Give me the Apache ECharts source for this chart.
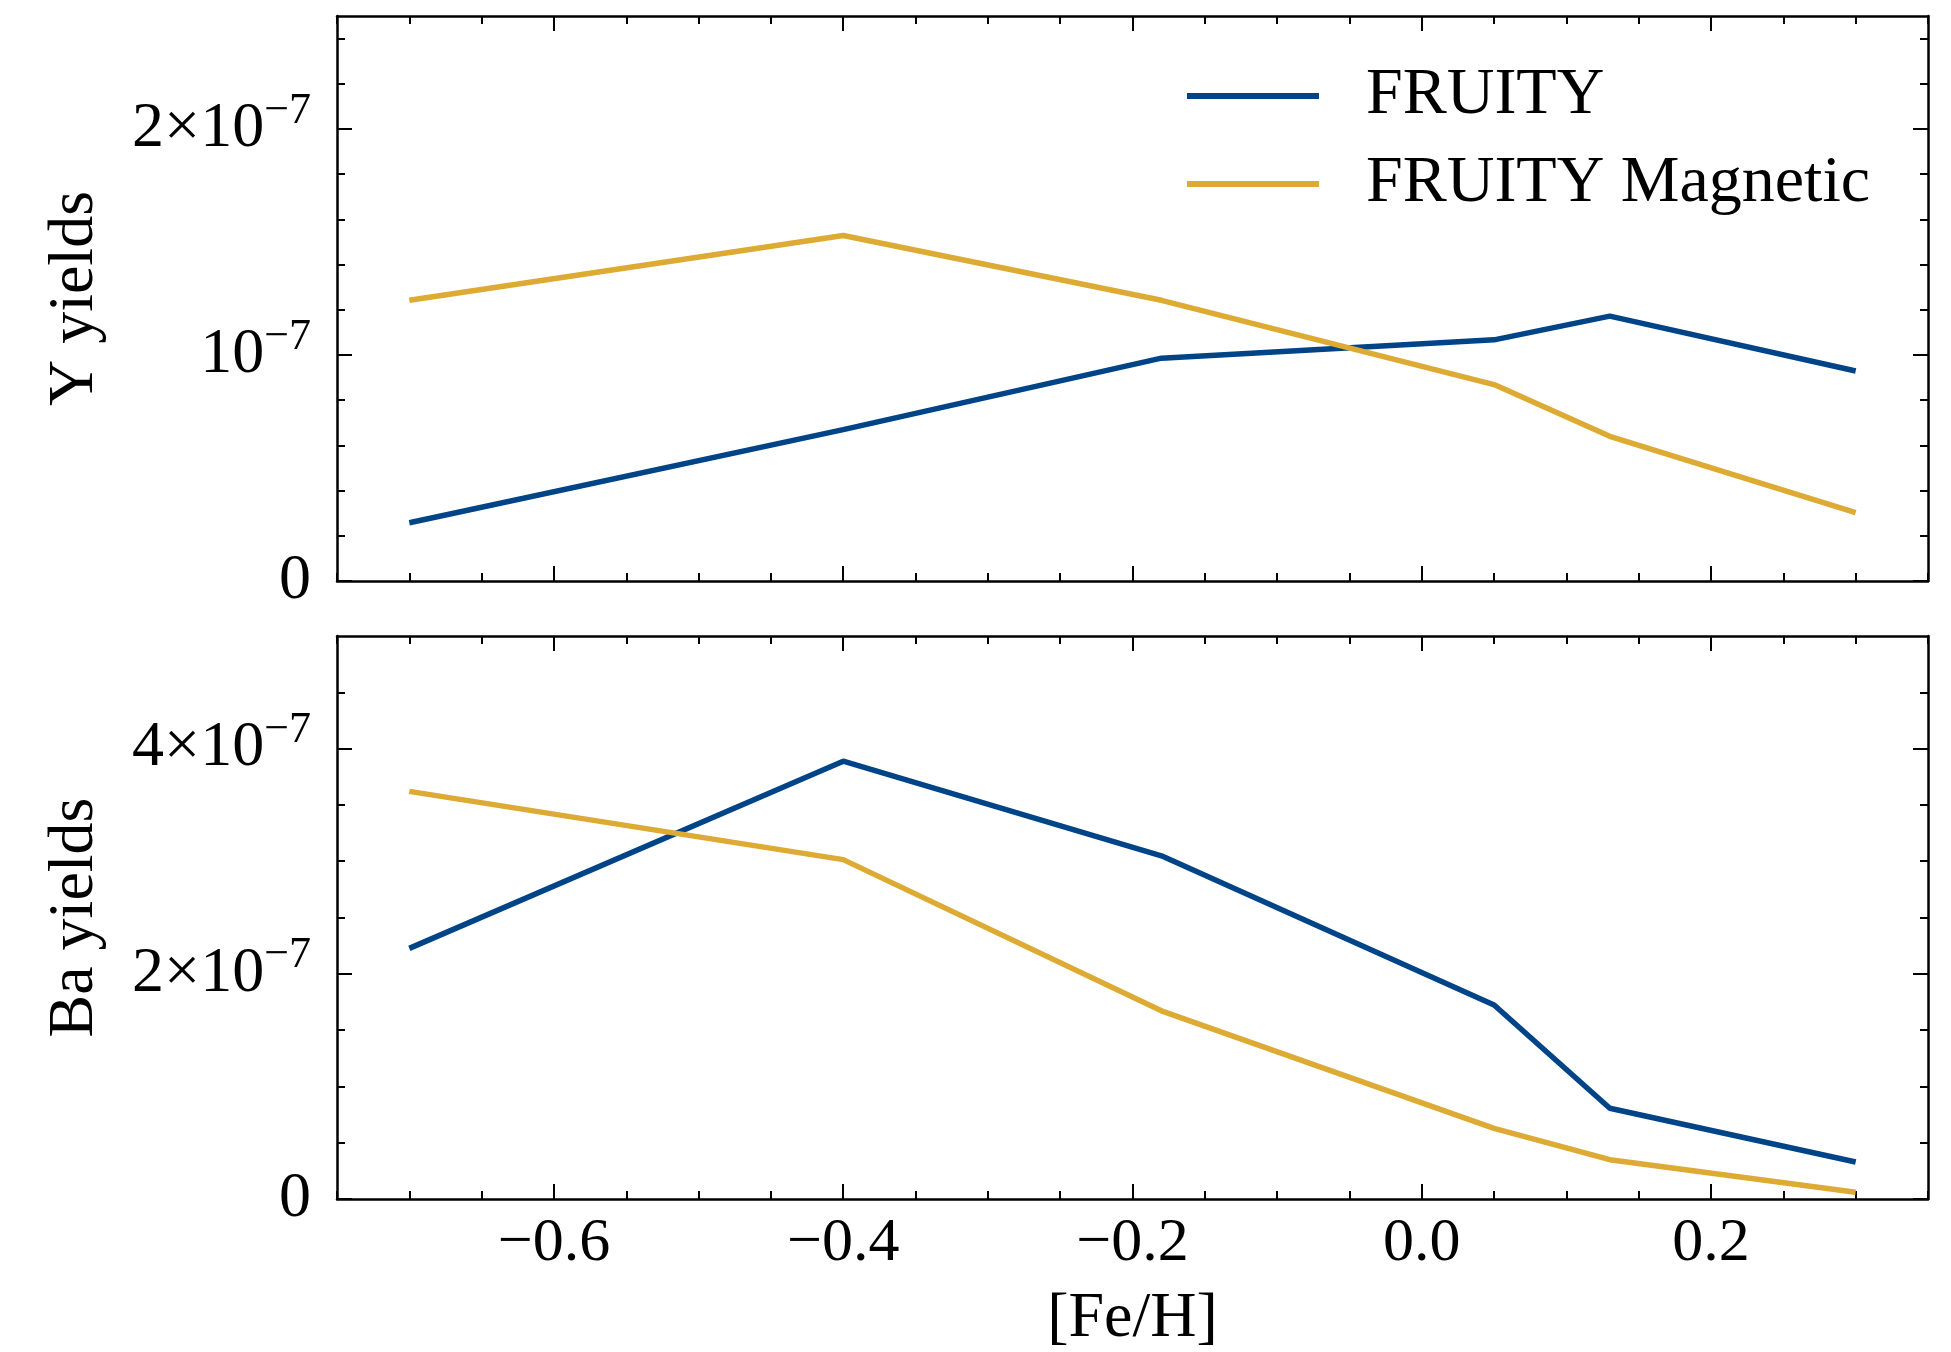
<!DOCTYPE html>
<html>
<head>
<meta charset="utf-8">
<title>FRUITY yields</title>
<script src="https://cdn.jsdelivr.net/npm/echarts@6/dist/echarts.min.js"></script>
<style>
  html, body { margin: 0; padding: 0; background: #fff; }
  #chart { width: 1951px; height: 1352px; }
</style>
</head>
<body>
<div id="chart"></div>
<script>
// data
var feh = [-0.7, -0.4, -0.18, 0.05, 0.13, 0.3];
var yFruity    = [0.258e-7, 0.670e-7, 0.986e-7, 1.067e-7, 1.172e-7, 0.929e-7];
var yMagnetic  = [1.242e-7, 1.529e-7, 1.242e-7, 0.869e-7, 0.640e-7, 0.302e-7];
var baFruity   = [2.226e-7, 3.888e-7, 3.048e-7, 1.723e-7, 0.806e-7, 0.329e-7];
var baMagnetic = [3.620e-7, 3.014e-7, 1.671e-7, 0.627e-7, 0.349e-7, 0.060e-7];

// ticks
var xMajor = [-0.6, -0.4, -0.2, 0.0, 0.2];
var xMinor = [-0.75, -0.7, -0.65, -0.55, -0.5, -0.45, -0.35, -0.3, -0.25, -0.15, -0.1, -0.05,
              0.05, 0.1, 0.15, 0.25, 0.3, 0.35];
var yTopMajor = [0, 1e-7, 2e-7];
var yTopMinor = [0.2e-7, 0.4e-7, 0.6e-7, 0.8e-7, 1.2e-7, 1.4e-7, 1.6e-7, 1.8e-7, 2.2e-7, 2.4e-7];
var yBotMajor = [0, 2e-7, 4e-7];
var yBotMinor = [0.5e-7, 1e-7, 1.5e-7, 2.5e-7, 3e-7, 3.5e-7, 4.5e-7];

var BLUE = '#004488';
var GOLD = '#DDAA33';
var FONT = 'Liberation Serif';

function pairs(xs, ys) {
  return xs.map(function (x, i) { return [x, ys[i]]; });
}

function sciLabel(v) {
  if (Math.abs(v) < 1e-12) return '{n|0}';
  var m = Math.round(v / 1e-7);
  if (m === 1) return '{n|10}{s|\u22127}';
  return '{n|' + m + '\u00d710}{s|\u22127}';
}

var richSci = {
  n: { fontFamily: FONT, fontSize: 64, lineHeight: 80, color: '#000' },
  s: { fontFamily: FONT, fontSize: 44, lineHeight: 44, verticalAlign: 'top', color: '#000' }
};

// one axis (x or y) with either major or minor ticks
function axis(opts) {
  var a = {
    type: 'value',
    gridIndex: opts.grid,
    position: opts.pos,
    min: opts.min,
    max: opts.max,
    splitLine: { show: false },
    axisLine: { show: !!opts.line, onZero: false, lineStyle: { color: '#000', width: 2.5 } },
    axisTick: {
      show: true, inside: true, length: opts.len,
      customValues: opts.ticks,
      lineStyle: { color: '#000', width: 2 }
    },
    axisLabel: { show: false }
  };
  if (opts.labels) a.axisLabel = opts.labels;
  if (opts.name) {
    a.name = opts.name;
    a.nameLocation = 'middle';
    a.nameGap = opts.nameGap;
    a.nameTextStyle = { fontFamily: FONT, fontSize: 64, color: '#000' };
  }
  return a;
}

function xAxes(grid, withLabels) {
  var labels = withLabels ? {
    show: true, margin: 14, customValues: xMajor,
    fontFamily: FONT, fontSize: 62, color: '#000',
    formatter: function (v) { return v.toFixed(1).replace('-', '\u2212'); }
  } : null;
  return [
    axis({ grid: grid, pos: 'bottom', min: -0.75, max: 0.35, line: true, len: 15, ticks: xMajor,
           labels: labels, name: withLabels ? '[Fe/H]' : null, nameGap: 88 }),
    axis({ grid: grid, pos: 'bottom', min: -0.75, max: 0.35, len: 8, ticks: xMinor }),
    axis({ grid: grid, pos: 'top', min: -0.75, max: 0.35, line: true, len: 15, ticks: xMajor }),
    axis({ grid: grid, pos: 'top', min: -0.75, max: 0.35, len: 8, ticks: xMinor })
  ];
}

function yAxes(grid, max, major, minor, name) {
  var labels = {
    show: true, margin: 26, customValues: major,
    formatter: sciLabel, rich: richSci
  };
  return [
    axis({ grid: grid, pos: 'left', min: 0, max: max, line: true, len: 15, ticks: major,
           labels: labels, name: name, nameGap: 230 }),
    axis({ grid: grid, pos: 'left', min: 0, max: max, len: 8, ticks: minor }),
    axis({ grid: grid, pos: 'right', min: 0, max: max, line: true, len: 15, ticks: major }),
    axis({ grid: grid, pos: 'right', min: 0, max: max, len: 8, ticks: minor })
  ];
}

function line(name, color, data, xi, yi) {
  return {
    name: name, type: 'line', xAxisIndex: xi, yAxisIndex: yi,
    data: data, symbol: 'none', smooth: false,
    lineStyle: { color: color, width: 5.5 },
    itemStyle: { color: color },
    z: 3
  };
}

var chart = echarts.init(document.getElementById('chart'));
chart.setOption({
  backgroundColor: '#fff',
  animation: false,
  grid: [
    { left: 337, right: 23, top: 16, height: 565 },
    { left: 337, right: 23, top: 636, height: 564 }
  ],
  legend: {
    data: ['FRUITY', 'FRUITY Magnetic'],
    orient: 'vertical',
    left: 1182, top: 58,
    icon: 'rect',
    itemWidth: 132, itemHeight: 6, itemGap: 22,
    textStyle: { fontFamily: FONT, fontSize: 66, lineHeight: 66, color: '#000', padding: [0, 0, 0, 42] }
  },
  xAxis: xAxes(0, false).concat(xAxes(1, true)),
  yAxis: yAxes(0, 2.5e-7, yTopMajor, yTopMinor, 'Y yields')
    .concat(yAxes(1, 5e-7, yBotMajor, yBotMinor, 'Ba yields')),
  series: [
    line('FRUITY', BLUE, pairs(feh, yFruity), 0, 0),
    line('FRUITY Magnetic', GOLD, pairs(feh, yMagnetic), 0, 0),
    line('FRUITY', BLUE, pairs(feh, baFruity), 4, 4),
    line('FRUITY Magnetic', GOLD, pairs(feh, baMagnetic), 4, 4)
  ]
});
</script>
</body>
</html>
